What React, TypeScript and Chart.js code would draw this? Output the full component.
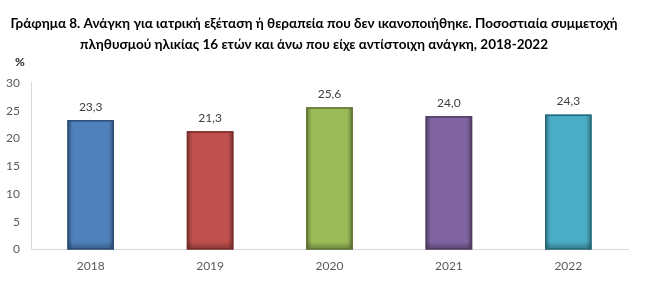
import React, { useEffect, useRef } from "react";
import { Chart, registerables } from "chart.js";

Chart.register(...registerables);

const titleLines = [
  "Γράφημα 8. Ανάγκη για ιατρική εξέταση ή θεραπεία που δεν ικανοποιήθηκε. Ποσοστιαία συμμετοχή",
  "πληθυσμού ηλικίας 16 ετών και άνω που είχε αντίστοιχη ανάγκη, 2018-2022",
];
const years = ["2018", "2019", "2020", "2021", "2022"];
const values = [23.3, 21.3, 25.6, 24.0, 24.3];
const barColors = ["#4F81BD", "#C0504D", "#9BBB59", "#8064A2", "#4BACC6"];
const borderColors = ["#2C4D75", "#772C2A", "#5F7530", "#4D3B62", "#276A7C"];
const unitLabel = "%";

const FONT = "Lato, 'Open Sans', sans-serif";

const overlayPlugin = {
  id: "overlay",
  afterDatasetsDraw(chart: any) {
    const ctx = chart.ctx;
    const meta = chart.getDatasetMeta(0);
    meta.data.forEach((bar: any, i: number) => {
      const w = bar.width;
      const l = bar.x - w / 2;
      const top = bar.y;
      const h = bar.base - bar.y;
      ctx.save();
      const g = ctx.createLinearGradient(l, 0, l + w, 0);
      g.addColorStop(0, "rgba(0,0,0,0.35)");
      g.addColorStop(0.12, "rgba(0,0,0,0)");
      g.addColorStop(0.88, "rgba(0,0,0,0)");
      g.addColorStop(1, "rgba(0,0,0,0.35)");
      ctx.fillStyle = g;
      ctx.fillRect(l, top, w, h);
      const g2 = ctx.createLinearGradient(0, bar.base - 8, 0, bar.base);
      g2.addColorStop(0, "rgba(0,0,0,0)");
      g2.addColorStop(1, "rgba(0,0,0,0.3)");
      ctx.fillStyle = g2;
      ctx.fillRect(l, bar.base - 8, w, 8);
      ctx.strokeStyle = borderColors[i];
      ctx.lineWidth = 1.5;
      ctx.strokeRect(l + 0.75, top + 0.75, w - 1.5, h - 1.5);
      // value label
      ctx.fillStyle = "#404040";
      ctx.font = `12px ${FONT}`;
      ctx.textAlign = "center";
      ctx.textBaseline = "middle";
      ctx.fillText(values[i].toFixed(1).replace(".", ","), bar.x, top - 13);
      ctx.restore();
    });
    // unit label
    const y = chart.scales.y;
    ctx.save();
    ctx.fillStyle = "#262626";
    ctx.font = `bold 12px ${FONT}`;
    ctx.textAlign = "center";
    ctx.textBaseline = "middle";
    ctx.fillText(unitLabel, 20, y.top - 21);
    ctx.restore();
  },
};

export default function App() {
  const ref = useRef<HTMLCanvasElement | null>(null);
  useEffect(() => {
    if (!ref.current) return;
    const chart = new Chart(ref.current, {
      type: "bar",
      data: {
        labels: years,
        datasets: [
          {
            data: values,
            backgroundColor: barColors,
            borderWidth: 0,
            barPercentage: 0.39,
            categoryPercentage: 1,
          },
        ],
      },
      options: {
        animation: false,
        responsive: false,
        maintainAspectRatio: false,
        layout: { padding: { left: 0, right: 24, top: 0, bottom: 10 } },
        plugins: {
          legend: { display: false },
          tooltip: { enabled: false },
          title: {
            display: true,
            text: titleLines,
            color: "#000000",
            font: { family: FONT, size: 13.5, weight: "bold", lineHeight: 1.55 },
            padding: { top: 13, bottom: 28 },
          },
        },
        scales: {
          x: {
            grid: { display: false, drawTicks: false },
            border: { display: true, color: "#D9D9D9", width: 1 },
            ticks: { color: "#595959", font: { family: FONT, size: 12 }, padding: 9 },
          },
          y: {
            min: 0,
            max: 30,
            afterFit: (s: any) => {
              s.width = 31;
            },
            grid: { display: false, drawTicks: false },
            border: { display: true, color: "#D9D9D9", width: 1 },
            ticks: {
              stepSize: 5,
              color: "#595959",
              font: { family: FONT, size: 12 },
              padding: 11,
            },
          },
        },
      },
      plugins: [overlayPlugin],
    });
    return () => chart.destroy();
  }, []);
  return (
    <div style={{ position: "fixed", left: 0, top: 0, width: 652, height: 292, background: "#fff" }}>
      <canvas ref={ref} width={652} height={292} style={{ width: 652, height: 292 }} />
    </div>
  );
}
